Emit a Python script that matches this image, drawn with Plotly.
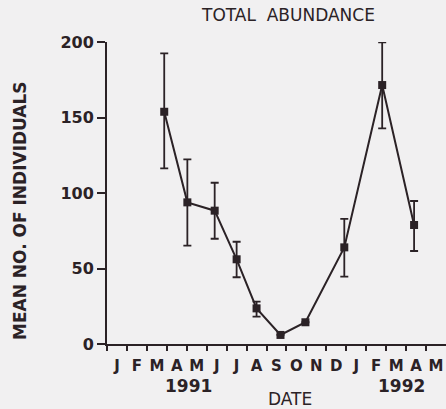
import plotly.graph_objects as go

# Data (x = months since 1 Jan 1991)
month_pos = [2.87, 4.03, 5.40, 6.50, 7.50, 8.70, 9.95, 11.90, 13.80, 15.40]
mean_vals = [153.8, 93.8, 88.3, 56.1, 23.6, 6.0, 14.4, 64.0, 171.5, 78.8]
err_plus = [38.7, 28.5, 18.5, 11.6, 4.4, 0, 0, 18.8, 28.3, 15.9]
err_minus = [37.5, 28.7, 18.6, 11.9, 5.5, 0, 0, 19.4, 28.7, 17.2]

month_labels = ["J", "F", "M", "A", "M", "J", "J", "A", "S", "O", "N", "D",
                "J", "F", "M", "A", "M"]
y_ticks = [0, 50, 100, 150, 200]
years = ["1991", "1992"]

ink = "#2b2226"
bg = "#f1f0f1"
font_b = "DejaVu Sans"

fig = go.Figure()
fig.add_trace(go.Scatter(
    x=month_pos, y=mean_vals, mode="lines+markers",
    line=dict(color=ink, width=2),
    marker=dict(symbol="square", size=8, color=ink),
    error_y=dict(type="data", symmetric=False, array=err_plus,
                 arrayminus=err_minus, color=ink, thickness=1.8, width=4),
    showlegend=False,
))

n = len(month_labels)
fig.update_xaxes(
    range=[0, n], showline=True, linecolor=ink, linewidth=2,
    showgrid=False, zeroline=False, automargin=False,
    tickvals=[i + 0.5 for i in range(n)], ticktext=month_labels,
    ticks="", ticklabelstandoff=7,
    tickfont=dict(family=font_b, size=15, color=ink, weight="bold"),
    minor=dict(tickvals=list(range(n)), ticks="outside", ticklen=5,
               tickcolor=ink, tickwidth=1.5, showgrid=False),
)
fig.update_yaxes(
    range=[0, 200], showline=True, linecolor=ink, linewidth=2,
    showgrid=False, zeroline=False, automargin=False,
    tickvals=y_ticks, ticks="outside", ticklen=8, tickcolor=ink, tickwidth=1.5,
    tickfont=dict(family=font_b, size=16, color=ink, weight="bold"),
)


def ann(text, x, y, xref="paper", size=17, bold=False, angle=0):
    return dict(text=text, x=x, y=y, xref=xref, yref="paper",
                xanchor="center", yanchor="middle", showarrow=False,
                textangle=angle,
                font=dict(family=font_b, size=size, color=ink,
                          weight="bold" if bold else "normal"))


fig.update_layout(
    width=446, height=409,
    margin=dict(l=107, r=0, t=42, b=65),
    paper_bgcolor=bg, plot_bgcolor=bg,
    annotations=[
        ann("TOTAL  ABUNDANCE", (288 - 107) / 339, (344 - 15) / 302),
        ann(years[0], 4.1, (344 - 386) / 302, xref="x", bold=True),
        ann(years[1], 14.75, (344 - 386) / 302, xref="x", bold=True),
        ann("DATE", 9.2, (344 - 399) / 302, xref="x"),
        ann("MEAN NO. OF INDIVIDUALS", (20 - 107) / 339, (344 - 211) / 302,
            bold=True, angle=-90),
    ],
)

fig.write_html("out.html", config={"displayModeBar": False},
               post_script="document.body.style.margin='0';document.body.style.overflow='hidden';")
